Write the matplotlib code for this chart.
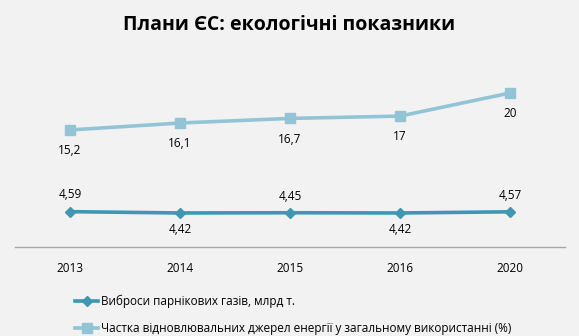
import matplotlib
matplotlib.use('Agg')
import matplotlib.pyplot as plt

plt.rcParams['font.family'] = ['Open Sans', 'DejaVu Sans']

years = ['2013', '2014', '2015', '2016', '2020']
emissions = [4.59, 4.42, 4.45, 4.42, 4.57]
renewables = [15.2, 16.1, 16.7, 17, 20]
emis_pos = ['above', 'below', 'above', 'below', 'above']

bg = '#F2F2F2'
dark = '#3F97B1'
light = '#93C4D6'

fig = plt.figure(figsize=(5.79, 3.36), dpi=100, facecolor=bg)
ax = fig.add_axes([15 / 579, 1 - 247 / 336, 550 / 579, 192.5 / 336])
ax.set_facecolor(bg)

x = list(range(len(years)))
ax.plot(x, emissions, color=dark, lw=2.6, marker='D', ms=5.5, label='Виброси парнікових газів, млрд т.')
ax.plot(x, renewables, color=light, lw=2.6, marker='s', ms=7, label='Частка відновлювальних джерел енергії у загальному використанні (%)')

def fmt(v):
    return str(v).replace('.', ',')

for i, v in enumerate(renewables):
    ax.annotate(fmt(v), (i, v), xytext=(0, -15), textcoords='offset points',
                ha='center', va='center', fontsize=8.5)
for i, v in enumerate(emissions):
    dy = 12 if emis_pos[i] == 'above' else -12
    ax.annotate(fmt(v), (i, v), xytext=(0, dy), textcoords='offset points',
                ha='center', va='center', fontsize=8.5)

ax.set_xlim(-0.5, 4.5)
ax.set_ylim(0, 25)
ax.set_xticks(x)
ax.set_xticklabels(years, fontsize=8.5)
ax.tick_params(axis='x', length=0, pad=11)
ax.set_yticks([])
for s in ['top', 'right', 'left']:
    ax.spines[s].set_visible(False)
ax.spines['bottom'].set_color('#A6A6A6')
ax.spines['bottom'].set_linewidth(1)

fig.text(0.5, 1 - 25 / 336, 'Плани ЄС: екологічні показники', ha='center', va='center',
         fontsize=14, fontweight='bold')

leg = fig.legend(loc='upper left', bbox_to_anchor=(70 / 579, 1 - 290 / 336), frameon=False,
                 fontsize=8.5, handlelength=2.0, handletextpad=0.2, labelspacing=1.2,
                 borderaxespad=0)

fig.savefig('out.png', dpi=100, facecolor=bg)
